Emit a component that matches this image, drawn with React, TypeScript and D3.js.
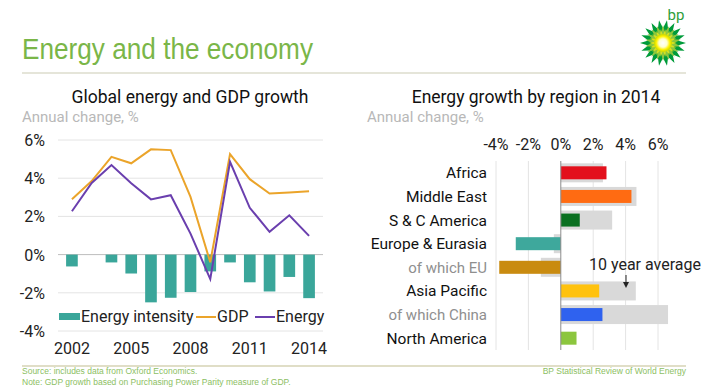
import * as d3 from "d3";

// ---- data ----
const years = [2002, 2003, 2004, 2005, 2006, 2007, 2008, 2009, 2010, 2011, 2012, 2013, 2014];
const energyIntensity = [-0.62, 0, -0.41, -0.99, -2.5, -2.26, -1.96, -0.88, -0.41, -1.45, -1.93, -1.17, -2.28];
const gdp = [2.9, 3.85, 5.12, 4.78, 5.51, 5.47, 3.02, -0.4, 5.26, 3.95, 3.2, 3.25, 3.32];
const energy = [2.27, 3.75, 4.69, 3.73, 2.89, 3.11, 1.1, -1.28, 4.86, 2.45, 1.19, 2.06, 0.98];
const leftTicks = [-4, -2, 0, 2, 4, 6];
const yearTicks = [2002, 2005, 2008, 2011, 2014];

const regions = ["Africa", "Middle East", "S & C America", "Europe & Eurasia", "of which EU", "Asia Pacific", "of which China", "North America"];
const growth2014 = [2.82, 4.36, 1.17, -2.78, -3.8, 2.37, 2.57, 0.97];
const tenYearAvg = [2.6, 4.67, 3.17, -0.43, -1.23, 4.63, 6.62, 0];
const regionColors = ["#e3101c", "#ff6b12", "#0a7021", "#3ea89c", "#c98b10", "#ffc20e", "#2f62ef", "#8cc63e"];
const subRegions = ["of which EU", "of which China"];
const rightTicks = [-4, -2, 0, 2, 4, 6];

const FONT = "Roboto, 'Liberation Sans', sans-serif";
const GREEN = "#7ab648";
const TEAL = "#3aa69a";
const ORANGE = "#eba42a";
const PURPLE = "#6a3fae";

function Logo() {
  const cx = 663, cy = 43;
  const star = (n: number, rOut: number, rIn: number, rot: number) =>
    d3.range(n * 2).map(i => {
      const r = i % 2 === 0 ? rOut : rIn;
      const a = (i * Math.PI) / n + rot;
      return [cx + r * Math.cos(a), cy + r * Math.sin(a)];
    }).map(p => p.join(",")).join(" ");
  return (
    <g>
      <defs>
        <radialGradient id="sun">
          <stop offset="0%" stopColor="#ffffff" />
          <stop offset="45%" stopColor="#ffffd0" />
          <stop offset="75%" stopColor="#fff200" />
          <stop offset="100%" stopColor="#c4d600" />
        </radialGradient>
      </defs>
      <polygon points={star(18, 23, 15, 0)} fill="#009b3a" />
      <polygon points={star(18, 18, 11, Math.PI / 18)} fill="#8cc63e" />
      <polygon points={star(18, 14, 8, 0)} fill="#d7e021" />
      <circle cx={cx} cy={cy} r={9} fill="url(#sun)" />
      <text x={676} y={20} fontSize={15} fill="#2f9e3b" fontFamily={FONT} textAnchor="middle">bp</text>
    </g>
  );
}

function LeftChart() {
  const x = d3.scaleBand<number>().domain(years).range([58, 323]).padding(0.41);
  const y = d3.scaleLinear().domain([-4, 6]).range([331, 140]);
  const cxOf = (yr: number) => (x(yr) as number) + x.bandwidth() / 2;
  const line = d3.line<number>().x((_, i) => cxOf(years[i])).y(d => y(d));
  return (
    <g fontFamily={FONT}>
      <text x={190} y={103} fontSize={17.5} textAnchor="middle" fill="#111">Global energy and GDP growth</text>
      <text x={22} y={122} fontSize={15} fill="#b8b8b8">Annual change, %</text>
      {leftTicks.map(t => (
        <g key={t}>
          <line x1={58} x2={323} y1={y(t)} y2={y(t)} stroke={t === 0 ? "#bdbdbd" : "#e4e4e4"} strokeWidth={1} />
          <text x={45} y={y(t) + 6} fontSize={16} textAnchor="end" fill="#222">{t}%</text>
        </g>
      ))}
      {energyIntensity.map((v, i) => (
        <rect key={i} x={x(years[i])} width={x.bandwidth()} y={y(Math.max(0, v))} height={Math.abs(y(v) - y(0))} fill={TEAL} />
      ))}
      <path d={line(gdp) as string} fill="none" stroke={ORANGE} strokeWidth={2} />
      <path d={line(energy) as string} fill="none" stroke={PURPLE} strokeWidth={2} />
      {yearTicks.map(t => (
        <text key={t} x={cxOf(t)} y={354} fontSize={16} textAnchor="middle" fill="#222">{t}</text>
      ))}
      {/* legend */}
      <rect x={59} y={313} width={21} height={7} fill={TEAL} />
      <text x={81} y={322} fontSize={16} fill="#222">Energy intensity</text>
      <line x1={196} x2={216} y1={317} y2={317} stroke={ORANGE} strokeWidth={2} />
      <text x={217} y={322} fontSize={16} fill="#222">GDP</text>
      <line x1={255} x2={275} y1={317} y2={317} stroke={PURPLE} strokeWidth={2} />
      <text x={276} y={322} fontSize={16} fill="#222">Energy</text>
    </g>
  );
}

function RightChart() {
  const x = d3.scaleLinear().domain([-4, 6]).range([496, 658]);
  const y = d3.scaleBand<string>().domain(regions).range([161, 350]);
  const mid = (r: string) => (y(r) as number) + y.bandwidth() / 2;
  const bar = (v: number) => ({ x: Math.min(x(0), x(v)), width: Math.abs(x(v) - x(0)) });
  return (
    <g fontFamily={FONT}>
      <text x={536} y={103} fontSize={17.5} textAnchor="middle" fill="#111">Energy growth by region in 2014</text>
      <text x={367} y={122} fontSize={15} fill="#b8b8b8">Annual change, %</text>
      {rightTicks.map(t => (
        <g key={t}>
          {t !== 0 && <line x1={x(t)} x2={x(t)} y1={161} y2={350} stroke="#e4e4e4" />}
          <text x={x(t)} y={150} fontSize={16} textAnchor="middle" fill="#222">{t}%</text>
        </g>
      ))}
      {regions.map((r, i) => (
        <g key={r}>
          <rect {...bar(tenYearAvg[i])} y={mid(r) - 9.5} height={19} fill="#d9d9d9" />
          <rect {...bar(growth2014[i])} y={mid(r) - 6.5} height={13} fill={regionColors[i]} />
          <text x={487} y={mid(r) + 5.5} fontSize={subRegions.includes(r) ? 15 : 15.5} textAnchor="end"
            fill={subRegions.includes(r) ? "#8f8f8f" : "#111"}>{r}</text>
        </g>
      ))}
      <line x1={x(0)} x2={x(0)} y1={161} y2={350} stroke="#8c8c8c" strokeWidth={1} />
      <text x={589} y={270} fontSize={16} fill="#222">10 year average</text>
      <line x1={626} x2={626} y1={275} y2={283} stroke="#222" strokeWidth={1} />
      <polygon points="623,282 629,282 626,288" fill="#222" />
    </g>
  );
}

export default function App() {
  return (
    <svg width={706} height={390} style={{ position: "absolute", left: 0, top: 0, background: "#fff" }}>
      <rect width={706} height={390} fill="#fff" />
      <text x={22} y={59} fontSize={29} fill={GREEN} fontFamily="'Liberation Sans', Arial, sans-serif"
        textLength={291} lengthAdjust="spacingAndGlyphs">Energy and the economy</text>
      <line x1={22} x2={686} y1={73} y2={73} stroke="#dcdccc" strokeWidth={1.5} />
      <Logo />
      <LeftChart />
      <RightChart />
      <line x1={22} x2={686} y1={366} y2={366} stroke="#d6d3b4" strokeWidth={1.5} />
      <g fontFamily="'Liberation Sans', Arial, sans-serif" fontSize={8.5} fill="#8cc063">
        <text x={22} y={374}>Source: includes data from Oxford Economics.</text>
        <text x={22} y={385}>Note: GDP growth based on Purchasing Power Parity measure of GDP.</text>
        <text x={686} y={374} textAnchor="end">BP Statistical Review of World Energy</text>
      </g>
    </svg>
  );
}
